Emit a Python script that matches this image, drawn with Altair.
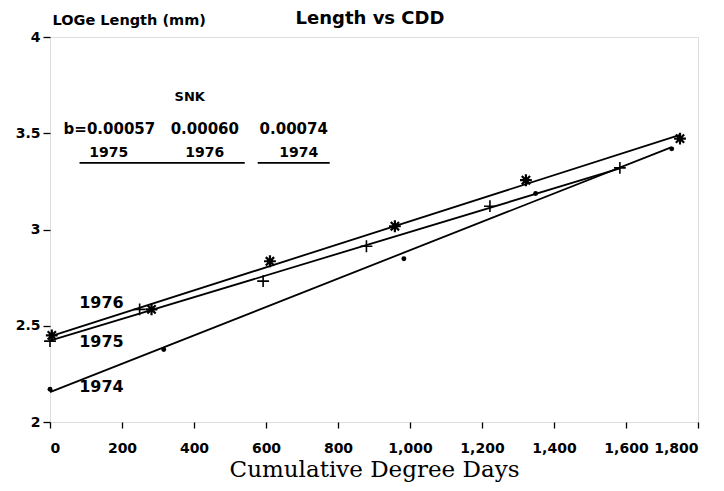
import altair as alt
import pandas as pd

# ---- data ----
x1974 = [0, 316, 983, 1349, 1727]
y1974 = [2.17, 2.377, 2.848, 3.187, 3.419]

x1975 = [0, 249, 592, 879, 1222, 1583]
y1975 = [2.42, 2.585, 2.732, 2.913, 3.121, 3.32]

x1976 = [5, 282, 611, 958, 1322, 1750]
y1976 = [2.45, 2.585, 2.835, 3.017, 3.256, 3.472]

# annotations (data coordinates)
snk_head = ["SNK"]
snk_head_x = [388]
snk_head_y = [3.69]

b_text = ["b=0.00057", "0.00060", "0.00074"]
b_x = [165, 430, 677]
b_y = [3.52, 3.52, 3.52]

grp_text = ["1975", "1976", "1974"]
grp_x = [163, 430, 691]
grp_y = [3.40, 3.40, 3.40]

under_x1 = [82, 577]
under_x2 = [541, 777]
under_y = [3.346, 3.346]

lab_text = ["1976", "1975", "1974"]
lab_x = [143, 143, 143]
lab_y = [2.62, 2.414, 2.18]

x_ticks = [0, 200, 400, 600, 800, 1000, 1200, 1400, 1600, 1800]
y_ticks = [2, 2.5, 3, 3.5, 4]

TITLE = "Length vs CDD"

rows = []
for yr, xs_, ys_ in (("1974", x1974, y1974), ("1975", x1975, y1975), ("1976", x1976, y1976)):
    for a, b in zip(xs_, ys_):
        rows.append({"year": yr, "cdd": a, "len": b})
df = pd.DataFrame(rows)

head = pd.DataFrame({"t": snk_head, "x": snk_head_x, "y": snk_head_y})
bdf = pd.DataFrame({"t": b_text, "x": b_x, "y": b_y})
gdf = pd.DataFrame({"t": grp_text, "x": grp_x, "y": grp_y})
und = pd.DataFrame({"x": under_x1, "x2": under_x2, "y": under_y})
labs = pd.DataFrame({"t": lab_text, "x": lab_x, "y": lab_y})

xs = alt.Scale(domain=[0, 1800], nice=False)
ys = alt.Scale(domain=[2, 4], nice=False)

FONT = "DejaVu Sans"

X = alt.X("cdd:Q", scale=xs,
          axis=alt.Axis(values=x_ticks, format=",d", title="Cumulative Degree Days",
                        grid=False, domain=False, tickColor="black", tickSize=6, tickWidth=1.3,
                        labelFont=FONT, labelFontWeight="bold", labelFontSize=14,
                        labelColor="black", labelPadding=13,
                        titleFont="DejaVu Serif", titleFontSize=23, titleFontWeight="normal",
                        titleColor="black", titlePadding=3))
Y = alt.Y("len:Q", scale=ys,
          axis=alt.Axis(values=y_ticks, format="~g", title="LOGe Length (mm)",
                        grid=False, domain=False, tickColor="black", tickSize=7, tickWidth=1.3,
                        labelFont=FONT, labelFontWeight="bold", labelFontSize=14,
                        labelColor="black", labelPadding=3,
                        titleAngle=0, titleAlign="left", titleBaseline="alphabetic",
                        titleX=2, titleY=-13, titleFont=FONT,
                        titleFontSize=14.5, titleFontWeight=600, titleColor="black"))

base = alt.Chart(df)

lines = base.transform_regression("cdd", "len", groupby=["year"]).mark_line(
    color="black", strokeWidth=1.8
).encode(x=X, y=Y, detail="year:N")

ast_path = "M-1,0L1,0M0,-1L0,1M-0.7,-0.7L0.7,0.7M-0.7,0.7L0.7,-0.7"
plus_path = "M-1,0L1,0M0,-1L0,1"

p76 = base.transform_filter(alt.datum.year == "1976").mark_point(
    shape=ast_path, size=140, filled=False, stroke="black", strokeWidth=2.2, opacity=1
).encode(x=X, y=Y)
p75 = base.transform_filter(alt.datum.year == "1975").mark_point(
    shape=plus_path, size=140, filled=False, stroke="black", strokeWidth=1.6, opacity=1
).encode(x=X, y=Y)
p74 = base.transform_filter(alt.datum.year == "1974").mark_circle(
    size=24, color="black", opacity=1
).encode(x=X, y=Y)

def txt(data, size):
    return alt.Chart(data).mark_text(
        font=FONT, fontWeight="bold", fontSize=size, color="black"
    ).encode(x=alt.X("x:Q", scale=xs), y=alt.Y("y:Q", scale=ys), text="t:N")

head_layer = txt(head, 13)
b_layer = txt(bdf, 15)
g_layer = txt(gdf, 14)
lab_layer = txt(labs, 16)

und_layer = alt.Chart(und).mark_rule(color="black", strokeWidth=1.8).encode(
    x=alt.X("x:Q", scale=xs), x2="x2:Q", y=alt.Y("y:Q", scale=ys))

title_layer = alt.Chart(pd.DataFrame({"t": [TITLE]})).mark_text(
    font=FONT, fontWeight="bold", fontSize=18, color="black", baseline="alphabetic"
).encode(x=alt.value(320), y=alt.value(-13), text="t:N")

chart = alt.layer(lines, p76, p75, p74, und_layer, head_layer, b_layer, g_layer,
                  lab_layer, title_layer).properties(
    width=648, height=385,
    autosize=alt.AutoSizeParams(type="none"),
    padding={"left": 42, "top": 29, "right": 18, "bottom": 69},
).configure_view(stroke="black", strokeWidth=1.5).configure(background="white")

chart.save("out.html", embed_options={"renderer": "svg", "actions": False})
